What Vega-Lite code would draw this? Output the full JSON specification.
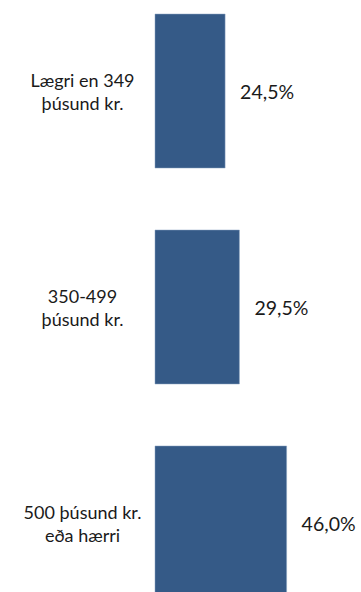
{
  "$schema": "https://vega.github.io/schema/vega-lite/v6.json",
  "width": 206,
  "height": 592,
  "autosize": {"type": "none"},
  "padding": {"left": 155, "top": 0, "right": 0, "bottom": 0},
  "background": "white",
  "config": {"view": {"stroke": null}},
  "data": {
    "values": [
      {"category": "Lægri en 349|þúsund kr.", "value": 24.5, "label": "24,5%"},
      {"category": "350-499|þúsund kr.", "value": 29.5, "label": "29,5%"},
      {"category": "500 þúsund kr.|eða hærri", "value": 46.0, "label": "46,0%"}
    ]
  },
  "encoding": {
    "y": {
      "field": "category",
      "type": "nominal",
      "sort": null,
      "scale": {"range": [0, 614], "paddingInner": 0.287, "paddingOuter": 0.065},
      "axis": {
        "title": null,
        "ticks": false,
        "domain": false,
        "labelAlign": "center",
        "labelBaseline": "middle",
        "labelPadding": 73,
        "labelOffset": -9,
        "labelFont": "Lato",
        "labelFontSize": 18,
        "labelColor": "#1a1a1a",
        "labelLineHeight": 23,
        "labelExpr": "split(datum.label, '|')"
      }
    },
    "x": {
      "field": "value",
      "type": "quantitative",
      "scale": {"domain": [0, 72], "nice": false, "zero": true},
      "axis": null
    }
  },
  "layer": [
    {"mark": {"type": "bar", "color": "#355a87", "stroke": "#8aa2c0", "strokeWidth": 0.5}},
    {
      "mark": {"type": "text", "align": "left", "baseline": "middle", "dx": 15, "dy": 2, "font": "Lato", "fontSize": 19.5, "color": "#1a1a1a"},
      "encoding": {"text": {"field": "label"}}
    }
  ]
}
